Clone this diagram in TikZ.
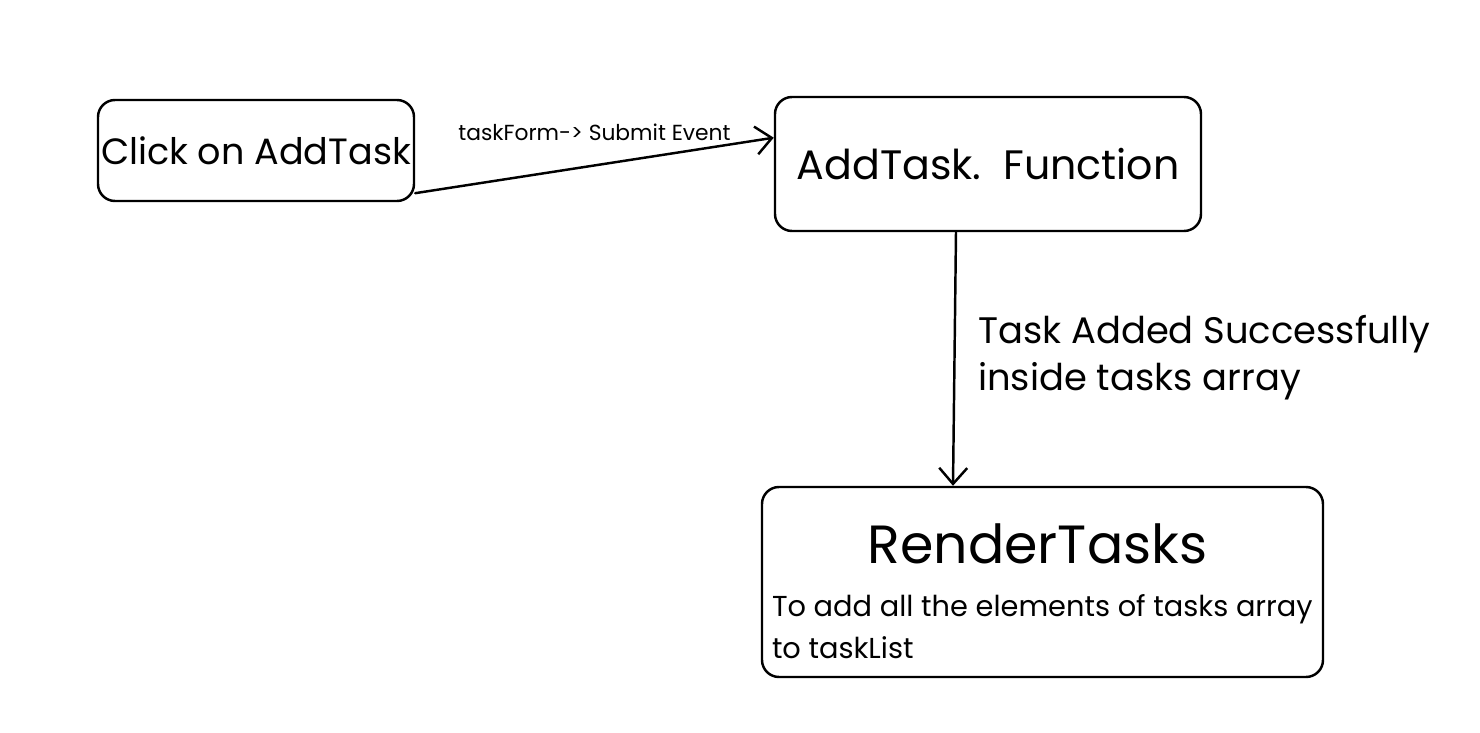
\documentclass[tikz,border=0pt]{standalone}
\usepackage{fontspec}
\setmainfont{Poppins}
\usetikzlibrary{arrows.meta,positioning}
\tikzset{
	stepbox/.style={draw,rounded corners=0.17cm,line width=0.7pt,inner sep=0pt},
	lbl/.style={inner sep=0pt,align=left}
}
\begin{document}
\begin{tikzpicture}[>={Straight Barb[length=0.16cm,width=0.28cm]},line join=round,line cap=round,line width=0.7pt,font=\fontsize{10.4}{12}\selectfont]
			\useasboundingbox (0,0) rectangle (14.8,7.32);
			\node[stepbox,minimum width=3.16cm,minimum height=1.01cm] (click) at (2.56,5.815) {Click on AddTask};
			\node[stepbox,minimum width=4.26cm,minimum height=1.34cm] (addfn) at (9.88,5.68) {\fontsize{11.7}{14}\selectfont AddTask.\ \ Function};
			\node[stepbox,minimum width=5.61cm,minimum height=1.90cm] (render) at (10.425,1.50) {};
			\node (rendertitle) at ([yshift=-0.58cm,xshift=-0.05cm]render.north) {\fontsize{15.3}{18}\selectfont RenderTasks};
			\node[lbl,anchor=west] (renderdesc) at ([xshift=0.1cm,yshift=-0.45cm]render.west) {\fontsize{8.2}{10}\selectfont To add all the elements of tasks array\\\fontsize{8.2}{10}\selectfont to taskList};
			\draw[->] (click.-15)--(addfn.173.6) node[pos=0.5,above=0.12cm,font=\fontsize{6.2}{7}\selectfont]{taskForm-> Submit Event};
			\draw[->] ([xshift=-0.32cm]addfn.south)--([xshift=-0.895cm]render.north);
			\node[lbl,anchor=west] (addlbl) at (9.77,3.74) {\fontsize{10.5}{12}\selectfont Task Added Successfully\\[0.05cm]\fontsize{10.5}{12}\selectfont inside tasks array};
	\end{tikzpicture}
\end{document}
